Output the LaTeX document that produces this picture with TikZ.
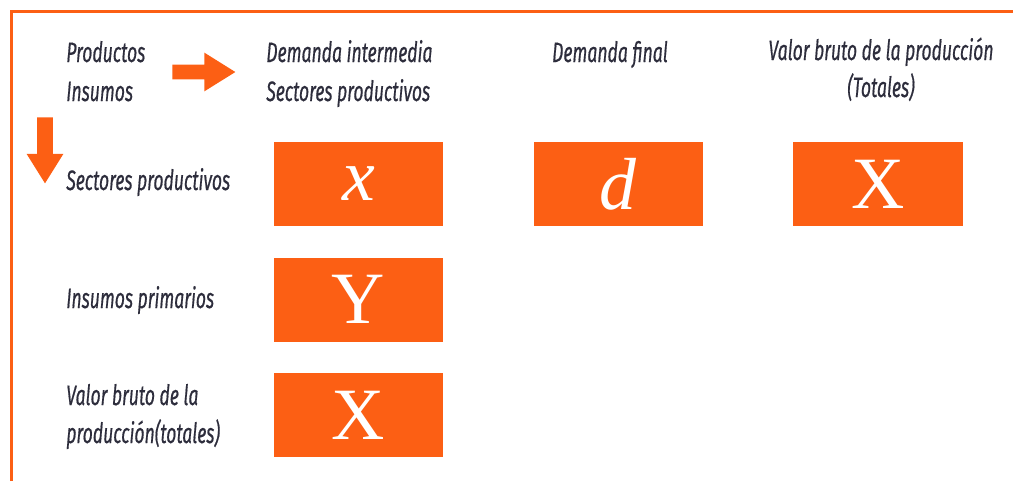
\documentclass[tikz,border=0pt]{standalone}
\usepackage{fontspec}
\usetikzlibrary{shapes.arrows}
\newfontfamily\condfont[FakeStretch=0.625,FakeBold=0.5]{Fira Sans}
\newfontfamily\boxfont{Liberation Serif}
\definecolor{naranja}{RGB}{252,95,20}
\definecolor{tinta}{RGB}{45,45,60}
\newcommand\rotulo[3]{\node[rotulo,anchor=base west](#1)at(#2){#3};}
\begin{document}
\begin{tikzpicture}[x=0.02cm,y=-0.02cm]
% Three styles: labels, orange boxes, block arrows
\tikzstyle{rotulo}=[inner sep=0,text=tinta,font=\condfont\itshape\fontsize{16}{20}\selectfont];
\tikzstyle{caja}=[fill=naranja,minimum width=3.4cm,minimum height=1.68cm,inner sep=0,text=white,font=\boxfont\fontsize{42}{44}\selectfont];
\tikzstyle{flecha}=[single arrow,fill=naranja,anchor=tail,inner sep=0.14cm,single arrow head extend=0.24cm,single arrow tip angle=64];
\useasboundingbox (0,0) rectangle (1013,481);
% Frame, top and left only
\draw[naranja,line width=0.06cm] (11.5,481) -- (11.5,11.5) -- (1013,11.5);
% Header
\rotulo{prod}{66,62}{Productos}
\rotulo{ins}{66,101}{Insumos}
\rotulo{dem1}{266,62}{Demanda intermedia}
\rotulo{dem2}{266,101}{Sectores productivos}
\node[rotulo,anchor=base](fin)at(610,62){Demanda final};
\node[rotulo,anchor=base](vbp1)at(881,60){Valor bruto de la producción};
\node[rotulo,anchor=base](vbp2)at(881,97){(Totales)};
% Rows
\rotulo{sec}{66,190}{Sectores productivos}
\rotulo{prim}{66,308}{Insumos primarios}
\rotulo{vb1}{66,405}{Valor bruto de la}
\rotulo{vb2}{66,443}{producción(totales)}
% Arrows
\node[flecha,minimum height=1.26cm](der)at(172,72){};
\node[flecha,shape border rotate=270,inner sep=0.15cm,single arrow head extend=0.21cm,minimum height=1.32cm](aba)at(45,117){};
% Boxes
\node[caja](x)at(358.5,184){$\textit{x}$};
\node[caja](d)at(618.5,184){\textit{d}};
\node[caja](X1)at(878,184){X};
\node[caja](Y)at(358.5,299.5){Y};
\node[caja](X2)at(358.5,415){X};
\end{tikzpicture}
\end{document}
